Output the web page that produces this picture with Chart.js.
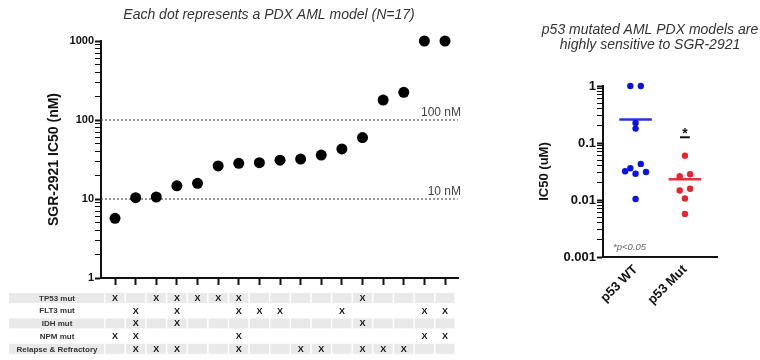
<!DOCTYPE html>
<html><head><meta charset="utf-8">
<script src="https://cdn.jsdelivr.net/npm/chart.js@4.4.1/dist/chart.umd.min.js"></script>
<style>
html,body{margin:0;padding:0;background:#fff;width:760px;height:360px;overflow:hidden}
#c1{position:absolute;left:0;top:0}
#c2{position:absolute;left:500px;top:0}
</style></head><body>
<canvas id="c1" width="480" height="360"></canvas>
<canvas id="c2" width="260" height="360"></canvas>
<script>
// ---------- data ----------
const MODELS = ['M1','M2','M3','M4','M5','M6','M7','M8','M9','M10','M11','M12','M13','M14','M15','M16','M17'];
const IC50_NM = [5.7, 10.4, 10.6, 14.7, 15.8, 26.2, 28.3, 28.8, 31, 32, 36, 43, 60, 179, 224, 1000, 1000];
const TP53_MUT           = [1,0,1,1,1,1,1,0,0,0,0,0,1,0,0,0,0];
const FLT3_MUT           = [0,1,0,1,0,0,1,1,1,0,0,1,0,0,0,1,1];
const IDH_MUT            = [0,1,0,1,0,0,0,0,0,0,0,0,1,0,0,0,0];
const NPM_MUT            = [1,1,0,0,0,0,1,0,0,0,0,0,0,0,0,1,1];
const RELAPSE_REFRACTORY = [0,1,1,1,0,0,1,0,0,1,1,0,1,1,1,0,0];
const ROW_LABELS = ['TP53 mut','FLT3 mut','IDH mut','NPM mut','Relapse & Refractory'];
const ROW_FLAGS = [TP53_MUT, FLT3_MUT, IDH_MUT, NPM_MUT, RELAPSE_REFRACTORY];
const REF_LINES_NM = [10, 100];
const REF_LABELS = ['10 nM', '100 nM'];
const LEFT_Y_TICKS = [1, 10, 100, 1000];
const RIGHT_Y_TICKS = [0.001, 0.01, 0.1, 1];
const GROUPS = ['p53 WT', 'p53 Mut'];
const LEFT_TITLE = 'Each dot represents a PDX AML model (N=17)';
const RIGHT_TITLE = ['p53 mutated AML PDX models are', 'highly sensitive to SGR-2921'];
const P_NOTE = '*p<0.05';

// derived groups (nM -> uM)
const WT_UM  = IC50_NM.filter((v,i)=>!TP53_MUT[i]).map(v=>v/1000);
const MUT_UM = IC50_NM.filter((v,i)=> TP53_MUT[i]).map(v=>v/1000);
const mean = a => a.reduce((s,v)=>s+v,0)/a.length;

// ---------- helpers ----------
const FONT = "'Liberation Sans', Arial, sans-serif";
Chart.defaults.font.family = FONT;
Chart.defaults.color = '#111';
const isMajor = v => Math.abs(Math.log10(v) - Math.round(Math.log10(v))) < 1e-6;
function logTicks(min, max){
  const out = [];
  for (let e = Math.round(Math.log10(min)); e < Math.round(Math.log10(max)); e++)
    for (let m = 1; m < 10; m++) out.push({value: m * Math.pow(10, e)});
  out.push({value: max});
  return out;
}
// simple beeswarm: returns slot offsets
function swarm(values, decPx, stepPx, minDist){
  const n = values.length, slot = new Array(n), ypx = values.map(v=>-Math.log10(v)*decPx);
  const order = values.map((v,i)=>i).sort((a,b)=>values[a]-values[b]);
  const placed = [];
  const seen = new Set();
  for (const i of order){
    if (seen.has(i)) continue;
    const same = order.filter(j=>values[j]===values[i]);
    if (same.length > 1){
      same.forEach((j,k)=>{ slot[j] = k-(same.length-1)/2; placed.push(j); seen.add(j); });
      continue;
    }
    for (const c of [0,1,-1,2,-2,3,-3]){
      const ok = placed.every(j => Math.hypot((slot[j]-c)*stepPx, ypx[j]-ypx[i]) >= minDist);
      if (ok){ slot[i] = c; break; }
    }
    placed.push(i); seen.add(i);
  }
  // symmetrise isolated pairs
  for (let i = 0; i < n; i++){
    if (Math.abs(slot[i]) !== 1) continue;
    const band = placed.filter(j => j!==i && Math.abs(ypx[j]-ypx[i]) < 6);
    if (band.length === 1 && slot[band[0]] === 0){
      const s = Math.sign(slot[i]);
      slot[i] = 0.5*s; slot[band[0]] = -0.5*s;
    }
  }
  return slot;
}

// ---------- left chart ----------
const X_MIN = -0.68, X_MAX = 16.63;
const leftPlugin = {
  id: 'leftDecor',
  afterDraw(chart){
    const {ctx, chartArea, scales} = chart;
    ctx.save();
    // title
    ctx.font = 'italic 14px ' + FONT; ctx.fillStyle = '#333';
    ctx.textAlign = 'center'; ctx.textBaseline = 'middle';
    ctx.fillText(LEFT_TITLE, 269, 15);
    // reference labels
    ctx.font = '12px ' + FONT; ctx.fillStyle = '#444';
    ctx.textAlign = 'right'; ctx.textBaseline = 'alphabetic';
    REF_LINES_NM.forEach((v,k)=>{
      const y = scales.y.getPixelForValue(v);
      ctx.fillText(REF_LABELS[k], chartArea.right + 3, y - 4);
    });
    // table
    const x = scales.x;
    const step = x.getPixelForValue(1) - x.getPixelForValue(0);
    const top0 = chartArea.bottom + 15, pitch = 12.7, h = 10;
    ROW_LABELS.forEach((lab, r)=>{
      const top = top0 + r*pitch, cy = top + h/2;
      if (r % 2 === 0){
        ctx.fillStyle = '#e9e9e9';
        ctx.fillRect(9, top, x.getPixelForValue(0) - step/2 - 9 - 0.5, h);
        MODELS.forEach((m,i)=>{
          const cx = x.getPixelForValue(i);
          ctx.fillRect(cx - step/2 + 0.75, top, step - 1.5, h);
        });
      }
      ctx.fillStyle = '#333';
      ctx.font = 'bold 8px ' + FONT; ctx.textAlign = 'center'; ctx.textBaseline = 'middle';
      ctx.fillText(lab, 57, cy + 0.5);
      ctx.fillStyle = '#111';
      ctx.font = 'bold 9px ' + FONT;
      ROW_FLAGS[r].forEach((f,i)=>{ if (f) ctx.fillText('X', x.getPixelForValue(i), cy + 0.5); });
    });
    ctx.restore();
  }
};

new Chart(document.getElementById('c1'), {
  type: 'scatter',
  data: {
    datasets: [
      { data: IC50_NM.map((v,i)=>({x:i, y:v})), pointRadius: 5.5, pointBackgroundColor: '#000', pointBorderWidth: 0, clip: false },
      ...REF_LINES_NM.map(v=>({
        type: 'line', data: [{x:X_MIN, y:v}, {x:X_MAX, y:v}],
        borderColor: '#555', borderWidth: 1.2, borderDash: [2,2], pointRadius: 0
      }))
    ]
  },
  options: {
    responsive: false, animation: false, events: [],
    layout: { padding: { left: 0, right: 22, top: 41, bottom: 0 } },
    plugins: { legend: {display:false}, tooltip: {enabled:false} },
    scales: {
      x: {
        type: 'linear', min: X_MIN, max: X_MAX,
        afterBuildTicks: s => { s.ticks = MODELS.map((m,i)=>({value:i})); },
        afterFit: s => { s.height = 82; },
        grid: { display: true, drawOnChartArea: false, drawTicks: true, tickLength: 7, tickWidth: 2, tickColor: '#111' },
        border: { display: true, color: '#111', width: 2 },
        ticks: { display: false }
      },
      y: {
        type: 'logarithmic', min: LEFT_Y_TICKS[0], max: LEFT_Y_TICKS[LEFT_Y_TICKS.length-1],
        afterBuildTicks: s => { s.ticks = logTicks(s.min, s.max); },
        afterFit: s => { s.width = 101; },
        grid: { drawOnChartArea: false, tickLength: 6, tickWidth: c => isMajor(c.tick.value) ? 2 : 1, tickColor: '#111' },
        border: { color: '#111', width: 2 },
        ticks: { autoSkip: false, padding: 1, font: {size: 11, weight: 'bold'}, color: '#111',
                 callback: v => isMajor(v) ? String(LEFT_Y_TICKS.find(t=>Math.abs(t-v)/t<1e-6)) : '' },
        title: { display: true, text: 'SGR-2921 IC50 (nM)', font: {size: 14, weight: 'bold'}, color: '#111', padding: {top: 46, bottom: 0} }
      }
    }
  },
  plugins: [leftPlugin]
});

// ---------- right chart ----------
const RX_MIN = -0.66, RX_MAX = 1.65, STEP = 0.212;
const wtSlots = swarm(WT_UM, 57, 10.5, 5.4);
const mutSlots = swarm(MUT_UM, 57, 10.5, 5.4);
const SIG_LEVEL = Math.max(...MUT_UM) * 2.1;

const rightPlugin = {
  id: 'rightDecor',
  afterDraw(chart){
    const {ctx, chartArea, scales} = chart;
    ctx.save();
    ctx.font = 'italic 14px ' + FONT; ctx.fillStyle = '#333';
    ctx.textAlign = 'center'; ctx.textBaseline = 'middle';
    ctx.fillText(RIGHT_TITLE[0], 150, 30);
    ctx.fillText(RIGHT_TITLE[1], 150, 45);
    // p note
    ctx.font = 'italic 9.5px ' + FONT; ctx.fillStyle = '#666';
    ctx.textAlign = 'left';
    ctx.fillText(P_NOTE, chartArea.left + 10, chartArea.bottom - 10);
    // star
    ctx.font = 'bold 14px ' + FONT; ctx.fillStyle = '#111';
    ctx.textAlign = 'center'; ctx.textBaseline = 'alphabetic';
    ctx.fillText('*', scales.x.getPixelForValue(1), scales.y.getPixelForValue(SIG_LEVEL) + 1);
    ctx.restore();
  }
};

new Chart(document.getElementById('c2'), {
  type: 'scatter',
  data: {
    datasets: [
      { data: WT_UM.map((v,i)=>({x: 0 + wtSlots[i]*STEP, y: v})), pointRadius: 3.2, pointBackgroundColor: '#0a14e0', pointBorderWidth: 0, clip: false },
      { data: MUT_UM.map((v,i)=>({x: 1 + mutSlots[i]*STEP, y: v})), pointRadius: 3.2, pointBackgroundColor: '#e8242c', pointBorderWidth: 0, clip: false },
      { type: 'line', data: [{x:-0.33, y:mean(WT_UM)}, {x:0.33, y:mean(WT_UM)}], borderColor: '#2a32e0', borderWidth: 2.5, pointRadius: 0 },
      { type: 'line', data: [{x:0.67, y:mean(MUT_UM)}, {x:1.33, y:mean(MUT_UM)}], borderColor: '#ea3038', borderWidth: 2.5, pointRadius: 0 },
      { type: 'line', data: [{x:0.9, y:SIG_LEVEL}, {x:1.1, y:SIG_LEVEL}], borderColor: '#111', borderWidth: 2, pointRadius: 0 }
    ]
  },
  options: {
    responsive: false, animation: false, events: [],
    layout: { padding: { left: 0, right: 43, top: 86, bottom: 0 } },
    plugins: { legend: {display:false}, tooltip: {enabled:false} },
    scales: {
      x: {
        type: 'linear', min: RX_MIN, max: RX_MAX,
        afterBuildTicks: s => { s.ticks = GROUPS.map((g,i)=>({value:i})); },
        afterFit: s => { s.height = 103; },
        grid: { display: true, drawOnChartArea: false, drawTicks: false },
        border: { display: true, color: '#111', width: 2 },
        ticks: { autoSkip: false, padding: 5, minRotation: 45, maxRotation: 45, font: {size: 13, weight: 'bold'}, color: '#111',
                 callback: v => GROUPS[Math.round(v)] }
      },
      y: {
        type: 'logarithmic', min: RIGHT_Y_TICKS[0], max: RIGHT_Y_TICKS[RIGHT_Y_TICKS.length-1],
        afterBuildTicks: s => { s.ticks = logTicks(s.min, s.max); },
        afterFit: s => { s.width = 103; },
        grid: { drawOnChartArea: false, tickLength: 6, tickWidth: c => isMajor(c.tick.value) ? 2 : 1, tickColor: '#111' },
        border: { color: '#111', width: 2 },
        ticks: { autoSkip: false, padding: 1, font: {size: 13, weight: 'bold'}, color: '#111',
                 callback: v => isMajor(v) ? String(RIGHT_Y_TICKS.find(t=>Math.abs(t-v)/t<1e-6)) : '' },
        title: { display: true, text: 'IC50 (uM)', font: {size: 13, weight: 'bold'}, color: '#111', padding: {top: 37, bottom: 0} }
      }
    }
  },
  plugins: [rightPlugin]
});
</script>
</body></html>
